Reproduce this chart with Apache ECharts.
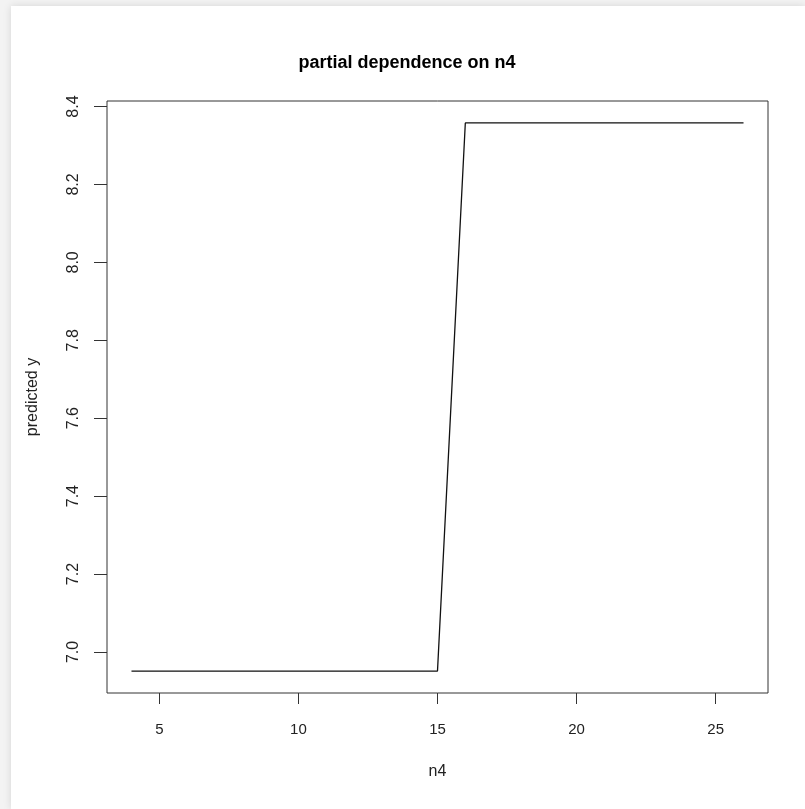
<!DOCTYPE html>
<html>
<head>
<meta charset="utf-8">
<script src="https://cdn.jsdelivr.net/npm/echarts@6/dist/echarts.min.js"></script>
<style>
  html, body { margin: 0; padding: 0; width: 805px; height: 809px; background: #f3f3f3; overflow: hidden; }
  #panel { position: absolute; left: 11px; top: 6px; right: 0; bottom: 0; background: #fff; box-shadow: 0 0 8px rgba(0,0,0,0.12); }
  #chart { position: absolute; left: 0; top: 0; width: 805px; height: 809px; }
</style>
</head>
<body>
<div id="panel"></div>
<div id="chart"></div>
<script>
// Data
const xValues = [4,5,6,7,8,9,10,11,12,13,14,15,16,17,18,19,20,21,22,23,24,25,26];
const yValues = [6.951,6.951,6.951,6.951,6.951,6.951,6.951,6.951,6.951,6.951,6.951,6.951,
                 8.358,8.358,8.358,8.358,8.358,8.358,8.358,8.358,8.358,8.358,8.358];
const xTicks = [5, 10, 15, 20, 25];
const yTicks = [7.0, 7.2, 7.4, 7.6, 7.8, 8.0, 8.2, 8.4];
const titleText = 'partial dependence on n4';
const xName = 'n4';
const yName = 'predicted y';

// R-style 4% range extension
function extend(arr) {
  const lo = Math.min(...arr), hi = Math.max(...arr);
  const d = (hi - lo) * 0.04;
  return [lo - d, hi + d];
}
const xr = extend(xValues);
const yr = extend(yValues);

const font = 'Liberation Sans, Arial, sans-serif';
const chart = echarts.init(document.getElementById('chart'), null, { renderer: 'canvas' });
chart.setOption({
  animation: false,
  backgroundColor: 'transparent',
  title: {
    text: titleText,
    left: 402, top: 49, textAlign: 'center',
    textStyle: { fontFamily: font, fontWeight: 'bold', fontSize: 18, color: '#000' }
  },
  grid: {
    left: 107, right: 37, top: 101, bottom: 116,
    show: true, borderColor: '#333', borderWidth: 1, backgroundColor: 'transparent'
  },
  xAxis: {
    type: 'value', min: xr[0], max: xr[1],
    name: xName, nameLocation: 'middle', nameGap: 71,
    nameTextStyle: { fontFamily: font, fontSize: 16, color: '#222' },
    axisLine: { show: false },
    splitLine: { show: false },
    axisTick: { show: true, inside: false, length: 11, customValues: xTicks, lineStyle: { color: '#333', width: 1 } },
    axisLabel: { customValues: xTicks, margin: 29, fontFamily: font, fontSize: 15, color: '#222',
                 formatter: v => String(v) }
  },
  yAxis: {
    type: 'value', min: yr[0], max: yr[1],
    name: yName, nameLocation: 'middle', nameGap: 66, nameRotate: 90,
    nameTextStyle: { fontFamily: font, fontSize: 16, color: '#222' },
    axisLine: { show: false },
    splitLine: { show: false },
    axisTick: { show: true, inside: false, length: 13, customValues: yTicks, lineStyle: { color: '#333', width: 1 } },
    axisLabel: { customValues: yTicks, rotate: 90, margin: 25, fontFamily: font, fontSize: 16, color: '#222',
                 formatter: v => v.toFixed(1) }
  },
  series: [{
    type: 'line',
    data: xValues.map((x, i) => [x, yValues[i]]),
    showSymbol: false,
    lineStyle: { color: '#111', width: 1.3 },
    clip: false
  }]
});
</script>
</body>
</html>
